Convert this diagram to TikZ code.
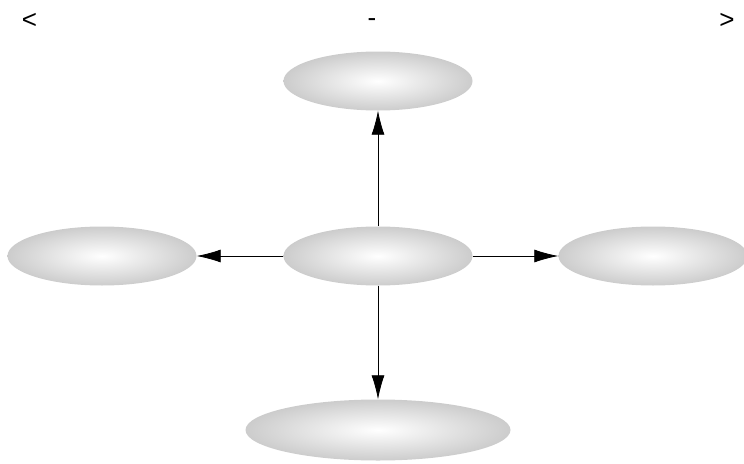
\documentclass[tikz,border=0pt]{standalone}
\usepackage{fontspec}
\setmainfont{Liberation Sans}
\usetikzlibrary{shapes.geometric,arrows.meta}

\begin{document}
\begin{tikzpicture}[x=1pt,y=-1pt,
   blob/.style={ellipse,inner sep=0pt,minimum width=189pt,minimum height=59pt,
      shading=radial,inner color=white,outer color=black!20},
   bigblob/.style={blob,minimum width=265pt,minimum height=61pt},
   sign/.style={font=\fontsize{26}{28}\selectfont,inner sep=0pt},
   link/.style={line width=0.8pt,-{Latex[length=24pt,width=13pt]}}
]
   \useasboundingbox (0,0) rectangle (744,463);

   \node[sign] (lt) at (29.5,21) {<};
   \node[sign,anchor=base] (dash) at (372,27) {-};
   \node[sign] (gt) at (727,21) {>};

   \node[blob] (c) at (378,256) {};
   \node[blob] (up) at (378,81) {};
   \node[blob] (l) at (102,256) {};
   \node[blob] (r) at (653,256) {};
   \node[bigblob] (dn) at (378,430) {};

   \draw[link] (c) -- (up);
   \draw[link] (c) -- (l);
   \draw[link] (c) -- (r);
   \draw[link] (c) -- (dn);
\end{tikzpicture}
\end{document}
